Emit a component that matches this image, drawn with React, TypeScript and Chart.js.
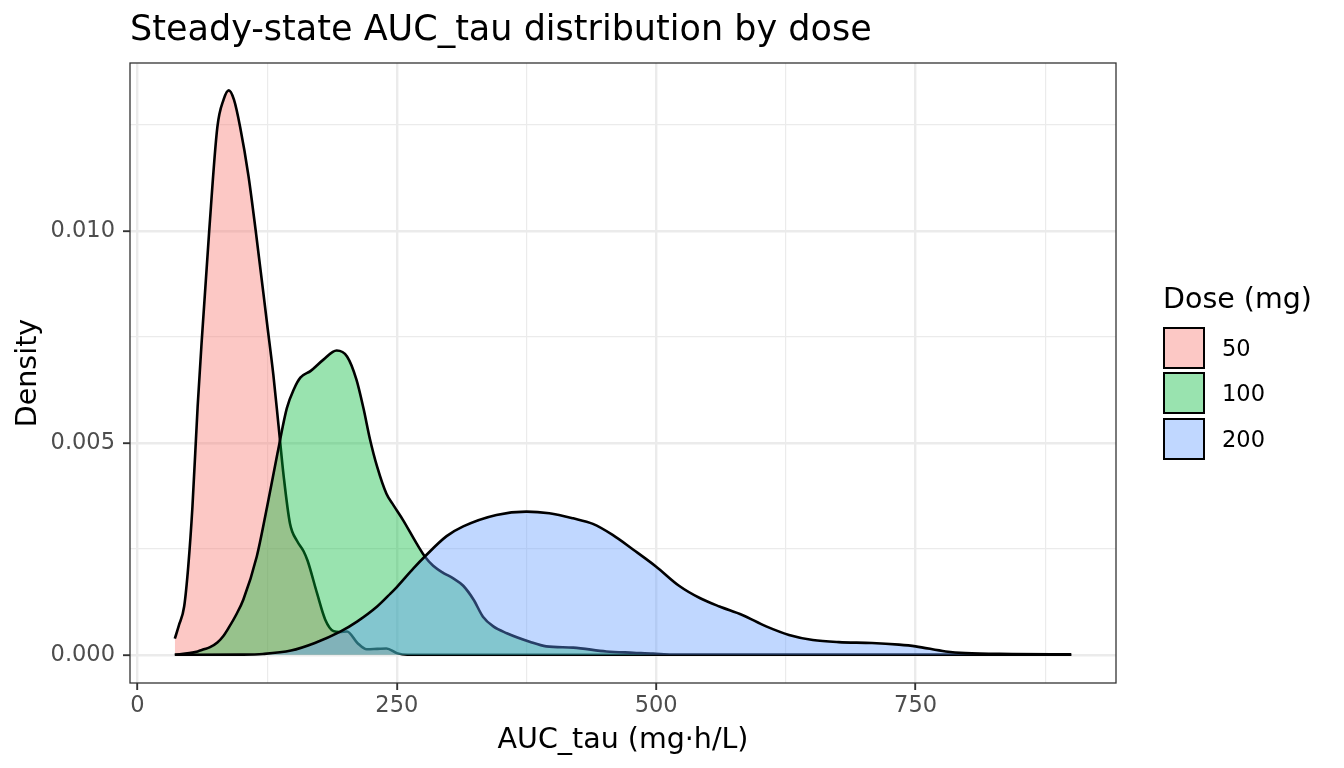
import { useEffect, useRef } from 'react'
import { Chart, registerables } from 'chart.js'

Chart.register(...registerables)

// density curves (x = AUC_tau, y = density)
const dose50X = [36, 40, 45, 49, 53, 58, 62, 69, 77, 83, 88, 93, 99, 107, 114, 125, 131, 136, 141, 147, 154, 160, 164, 173, 181, 189, 195, 202, 212, 221, 231, 240, 250, 260, 900]
const dose50Y = [0.00038, 0.0007, 0.00114, 0.0021, 0.0035, 0.00586, 0.00743, 0.00995, 0.01245, 0.0131, 0.01332, 0.0131, 0.01245, 0.0113, 0.0100, 0.0078, 0.0066, 0.0054, 0.0042, 0.0031, 0.00268, 0.00245, 0.00222, 0.00146, 0.00083, 0.00056, 0.00054, 0.00055, 0.00028, 0.00013, 0.00014, 0.00015, 0.00004, 0, 0]

const dose100X = [36, 50, 58, 64, 70, 77, 83, 88, 95, 102, 115, 125, 135, 144, 151, 157, 167, 179, 192, 202, 211, 218, 224, 231, 240, 247, 256, 269, 277, 285, 295, 304, 314, 324, 333, 343, 356, 378, 394, 420, 452, 478, 497, 515, 900]
const dose100Y = [0, 0.00004, 0.00008, 0.00013, 0.00018, 0.00029, 0.00045, 0.00064, 0.00094, 0.0013, 0.00232, 0.0035, 0.00476, 0.00582, 0.00628, 0.00654, 0.0067, 0.00696, 0.00718, 0.00704, 0.0065, 0.0058, 0.0051, 0.00444, 0.0038, 0.00352, 0.00318, 0.00263, 0.00232, 0.0021, 0.00193, 0.00181, 0.00163, 0.0013, 0.0009, 0.00067, 0.00051, 0.00031, 0.0002, 0.00017, 0.00008, 0.00005, 0.00003, 0, 0]

const dose200X = [36, 100, 121, 148, 171, 195, 212, 231, 244, 250, 266, 277, 298, 314, 346, 375, 397, 420, 439, 458, 478, 500, 522, 542, 561, 583, 606, 628, 651, 676, 708, 734, 750, 779, 798, 843, 900]
const dose200Y = [0, 0.000005, 0.00002, 0.0001, 0.00028, 0.00054, 0.00079, 0.00114, 0.00145, 0.0016, 0.00204, 0.00232, 0.0028, 0.00303, 0.0033, 0.00338, 0.00334, 0.00322, 0.00309, 0.00283, 0.00248, 0.00208, 0.00163, 0.00134, 0.00114, 0.00094, 0.00067, 0.00047, 0.00035, 0.0003, 0.00028, 0.00024, 0.0002, 0.00008, 0.00004, 0.00002, 0.00001]

const doseLabels = ['50', '100', '200']
const doseColors = ['rgba(248,118,109,0.4)', 'rgba(0,186,56,0.4)', 'rgba(97,156,255,0.4)']
const doseKeyColors = ['#FCC8C5', '#99E3AF', '#C0D7FF']

const xMajorTicks = [0, 250, 500, 750]
const xMinorTicks = [125, 375, 625, 875]
const yMajorTicks = [0, 0.005, 0.01]
const yMinorTicks = [0.0025, 0.0075, 0.0125]
const yTickLabels = ['0.000', '0.005', '0.010']

const FONT = '"DejaVu Sans", sans-serif'

const toPoints = (xs: number[], ys: number[]) => xs.map((x, i) => ({ x, y: ys[i] }))

const isMajor = (v: number, list: number[]) => list.some((m) => Math.abs(m - v) < 1e-9)

const panelBorder = {
  id: 'panelBorder',
  afterDatasetsDraw(chart: Chart) {
    const { ctx, chartArea } = chart
    ctx.save()
    ctx.strokeStyle = '#333333'
    ctx.lineWidth = 1.3
    ctx.strokeRect(chartArea.left, chartArea.top, chartArea.right - chartArea.left, chartArea.bottom - chartArea.top)
    ctx.restore()
  },
}

function DensityChart() {
  const canvasRef = useRef<HTMLCanvasElement>(null)
  const chartRef = useRef<Chart | null>(null)

  useEffect(() => {
    if (!canvasRef.current) return
    if (chartRef.current) chartRef.current.destroy()

    const series = [
      toPoints(dose50X, dose50Y),
      toPoints(dose100X, dose100Y),
      toPoints(dose200X, dose200Y),
    ]

    chartRef.current = new Chart(canvasRef.current, {
      type: 'line',
      data: {
        datasets: series.map((pts, i) => ({
          label: doseLabels[i],
          data: pts,
          borderColor: '#000000',
          borderWidth: 2.6,
          borderJoinStyle: 'round' as const,
          backgroundColor: doseColors[i],
          fill: 'origin',
          pointRadius: 0,
          cubicInterpolationMode: 'monotone' as const,
          order: 3 - i, // last dose drawn on top
        })),
      },
      options: {
        responsive: false,
        animation: false,
        devicePixelRatio: 1,
        layout: { padding: { left: 0, top: 63, right: 228, bottom: 0 } },
        plugins: { legend: { display: false }, tooltip: { enabled: false } },
        scales: {
          x: {
            type: 'linear',
            min: -7.2,
            max: 943.2,
            afterBuildTicks: (s: any) => {
              s.ticks = [...xMajorTicks, ...xMinorTicks].sort((a, b) => a - b).map((v) => ({ value: v }))
            },
            afterFit: (s: any) => { s.height = 85 },
            ticks: {
              autoSkip: false,
              maxRotation: 0,
              padding: 3,
              color: '#4D4D4D',
              font: { family: FONT, size: 22.5 },
              callback: (v: any) => (isMajor(Number(v), xMajorTicks) ? String(v) : ''),
            },
            grid: {
              color: '#EBEBEB',
              lineWidth: (c: any) => (isMajor(c.tick?.value, xMajorTicks) ? 2.4 : 1.2),
              tickLength: 7,
              tickWidth: 1.9,
              tickColor: (c: any) => (isMajor(c.tick?.value, xMajorTicks) ? '#333333' : 'rgba(0,0,0,0)'),
            },
            border: { display: false },
            title: {
              display: true,
              text: 'AUC_tau (mg·h/L)',
              color: '#000000',
              font: { family: FONT, size: 28.5 },
              padding: { top: 0, bottom: 10 },
            },
          },
          y: {
            type: 'linear',
            min: -0.000665,
            max: 0.013965,
            afterBuildTicks: (s: any) => {
              s.ticks = [...yMajorTicks, ...yMinorTicks].sort((a, b) => a - b).map((v) => ({ value: v }))
            },
            afterFit: (s: any) => { s.width = 130 },
            ticks: {
              autoSkip: false,
              padding: 8,
              color: '#4D4D4D',
              font: { family: FONT, size: 22.5 },
              callback: (v: any) => {
                const idx = yMajorTicks.findIndex((m) => Math.abs(m - Number(v)) < 1e-9)
                return idx >= 0 ? yTickLabels[idx] : ''
              },
            },
            grid: {
              color: '#EBEBEB',
              lineWidth: (c: any) => (isMajor(c.tick?.value, yMajorTicks) ? 2.4 : 1.2),
              tickLength: 7,
              tickWidth: 1.9,
              tickColor: (c: any) => (isMajor(c.tick?.value, yMajorTicks) ? '#333333' : 'rgba(0,0,0,0)'),
            },
            border: { display: false },
            title: {
              display: true,
              text: 'Density',
              color: '#000000',
              font: { family: FONT, size: 28.5 },
              padding: { top: 11, bottom: 0 },
            },
          },
        },
      },
      plugins: [panelBorder],
    })

    return () => { chartRef.current?.destroy() }
  }, [])

  return <canvas ref={canvasRef} width={1344} height={768} style={{ position: 'absolute', left: 0, top: 0 }} />
}

export default function App() {
  return (
    <div style={{ position: 'absolute', left: 0, top: 0, width: 1344, height: 768, background: '#fff', fontFamily: FONT, overflow: 'hidden' }}>
      <DensityChart />
      <div style={{ position: 'absolute', left: 130, top: 11, fontSize: 35, lineHeight: '35px', color: '#000', whiteSpace: 'nowrap' }}>
        Steady-state AUC_tau distribution by dose
      </div>
      <div style={{ position: 'absolute', left: 1163, top: 285, fontSize: 28.5, lineHeight: '28.5px', color: '#000', whiteSpace: 'nowrap' }}>
        Dose (mg)
      </div>
      {doseLabels.map((lab, i) => (
        <div key={lab} style={{ position: 'absolute', left: 1163, top: 325 + 45.6 * i, height: 45.6, display: 'flex', alignItems: 'center' }}>
          <div style={{ width: 38, height: 38, border: '2px solid #000', background: doseKeyColors[i] }} />
          <span style={{ marginLeft: 17, fontSize: 22.5, color: '#000' }}>{lab}</span>
        </div>
      ))}
    </div>
  )
}
